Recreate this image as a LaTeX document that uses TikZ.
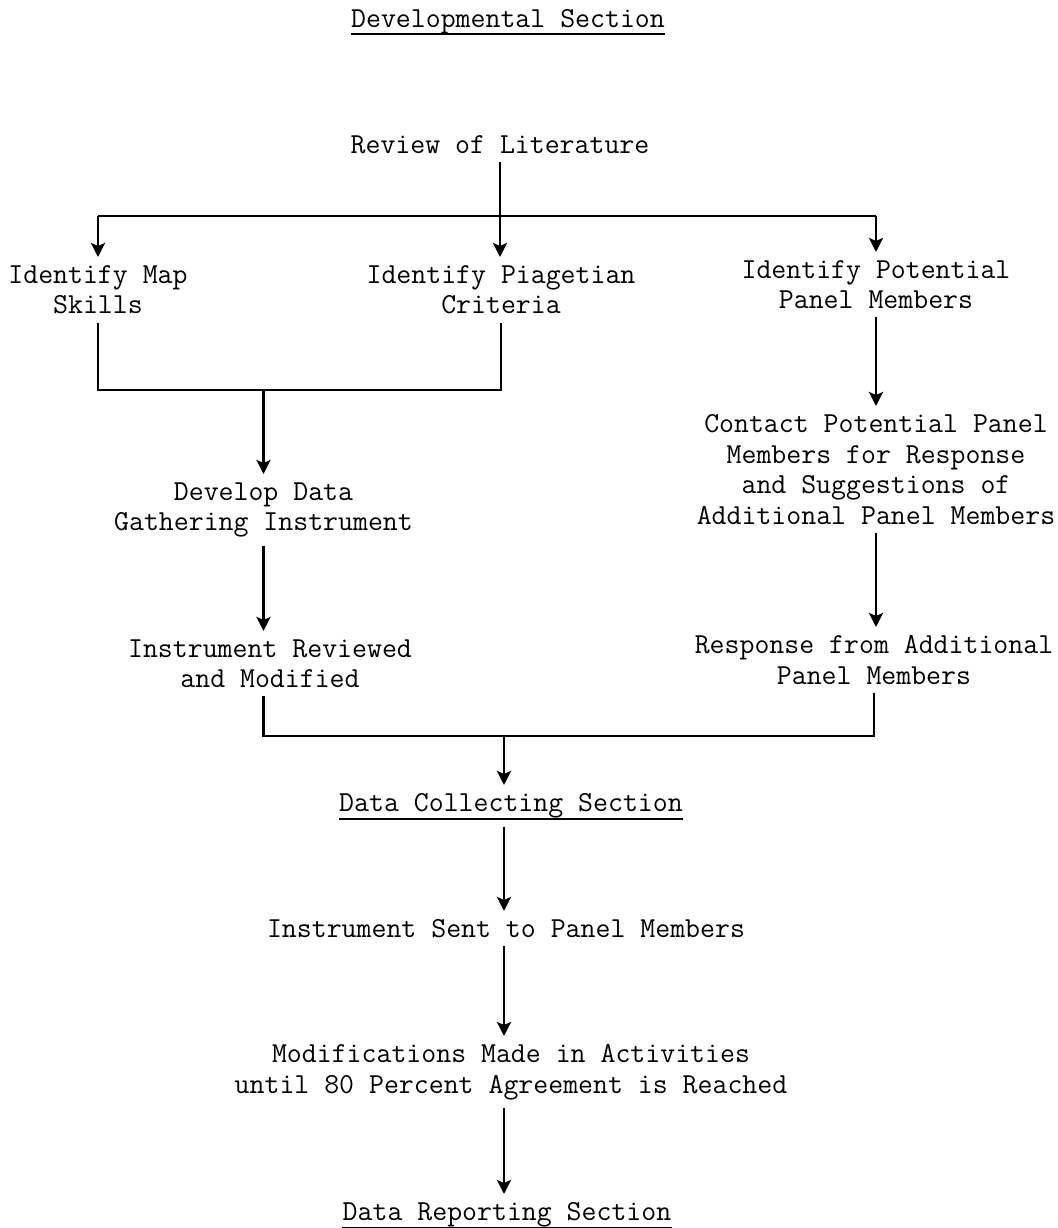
\documentclass[tikz,border=0pt]{standalone}
\usepackage{tikz}
\usetikzlibrary{arrows.meta}
\newcommand{\typed}{\fontsize{14.5}{15.3}\selectfont\ttfamily}

\begin{document}
\begin{tikzpicture}[x=0.5pt,y=-0.5pt,
  txt/.style={anchor=north,align=center,inner xsep=0pt,inner ysep=4pt,font=\typed},
  wire/.style={line width=1.4pt},
  arr/.style={wire,-{Stealth[length=7pt,width=7pt,inset=1.5pt]}},
  uline/.style={line width=1pt}]
  \useasboundingbox (0,0) rectangle (1057,1228);

  % section titles
  \node[txt] (devsec) at (508,1)       {Developmental Section};
  \node[txt] (coll)   at (511,785)     {Data Collecting Section};
  \node[txt] (rep)    at (507,1194)    {Data Reporting Section};
  \draw[uline] ([yshift=4pt]devsec.south west) -- ([yshift=4pt]devsec.south east);
  \draw[uline] ([yshift=4pt]coll.south west)   -- ([yshift=4pt]coll.south east);
  \draw[uline] ([yshift=4pt]rep.south west)    -- ([yshift=4pt]rep.south east);

  % steps
  \node[txt] (rev)     at (500,127)    {Review of Literature};
  \node[txt] (map)     at (98,257)     {Identify Map\\Skills};
  \node[txt] (piag)    at (501,257)    {Identify Piagetian\\Criteria};
  \node[txt] (pot)     at (876,252)    {Identify Potential\\Panel Members};
  \node[txt] (dev)     at (263.5,474)  {Develop Data\\Gathering Instrument};
  \node[txt] (rev2)    at (270,631)    {Instrument Reviewed\\and Modified};
  \node[txt] (contact) at (876,406)    {Contact Potential Panel\\Members for Response\\and Suggestions of\\Additional Panel Members};
  \node[txt] (resp)    at (874,627)    {Response from Additional\\Panel Members};
  \node[txt] (inst)    at (506,911)    {Instrument Sent to Panel Members};
  \node[txt] (mod)     at (511,1036)   {Modifications Made in Activities\\until 80 Percent Agreement is Reached};

  \coordinate (bus)   at (0,216);
  \coordinate (joinA) at (0,390);
  \coordinate (joinB) at (0,736);
  \coordinate (spine) at (504,736);

  % connectors
  \draw[wire] (map.north |- bus) -- (pot.north |- bus);
  \draw[arr] (map.north |- bus) -- (map.north);
  \draw[arr] (pot.north |- bus) -- (pot.north);
  \draw[arr] (rev.south) -- (rev.south |- piag.north);
  \draw[wire] (map.south) -- (map.south |- joinA) -- (piag.south |- joinA) -- (piag.south);
  \draw[arr] (dev.north |- joinA) -- (dev.north);
  \draw[arr] (dev.south) -- (dev.south |- rev2.north);
  \draw[arr] (pot.south) -- (pot.south |- contact.north);
  \draw[arr] (contact.south) -- (contact.south |- resp.north);
  \draw[wire] (dev.south |- rev2.south) -- (dev.south |- joinB) -- (resp.south |- joinB) -- (resp.south);
  \draw[arr] (spine) -- (spine |- coll.north);
  \draw[arr] (coll.south -| spine) -- (inst.north -| spine);
  \draw[arr] (inst.south -| spine) -- (mod.north -| spine);
  \draw[arr] (mod.south -| spine) -- (rep.north -| spine);
\end{tikzpicture}
\end{document}
